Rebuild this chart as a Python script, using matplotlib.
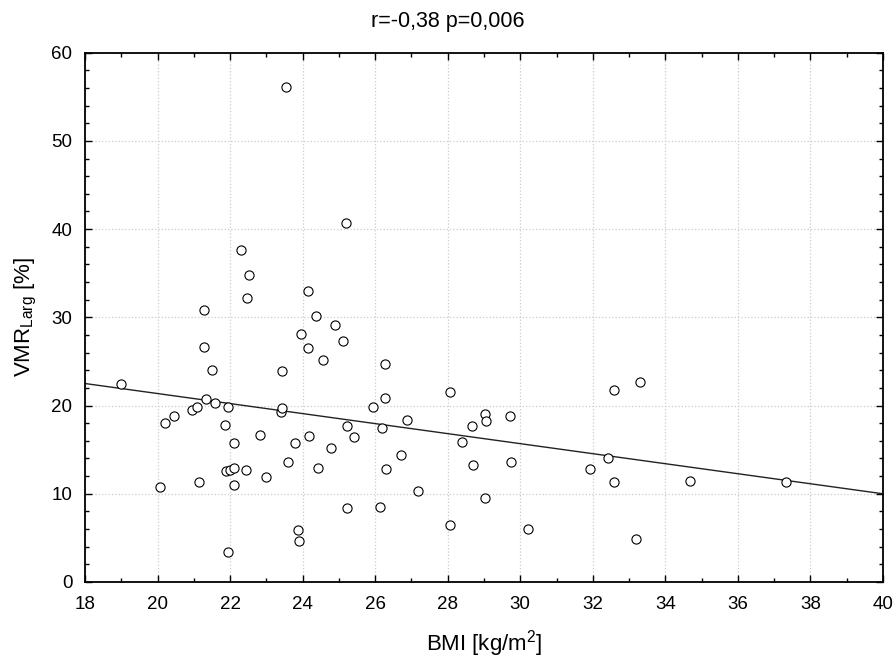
import numpy as np
import matplotlib
matplotlib.use("Agg")
import matplotlib.pyplot as plt
from matplotlib.ticker import MultipleLocator

plt.rcParams['font.family'] = ['Liberation Sans', 'DejaVu Sans']
plt.rcParams['mathtext.fontset'] = 'custom'
plt.rcParams['mathtext.rm'] = 'Liberation Sans'
plt.rcParams['mathtext.it'] = 'Liberation Sans'

bmi = [18.99, 20.07, 20.20, 20.45, 20.95, 21.09, 21.14, 21.27, 21.27, 21.34,
       21.51, 21.59, 21.86, 21.90, 21.95, 21.95, 22.00, 22.11, 22.11, 22.12,
       22.31, 22.43, 22.47, 22.52, 22.83, 22.99, 23.39, 23.43, 23.43, 23.55,
       23.60, 23.80, 23.86, 23.90, 23.95, 24.14, 24.15, 24.18, 24.38, 24.43,
       24.55, 24.79, 24.90, 25.11, 25.19, 25.21, 25.21, 25.42, 25.94, 26.14,
       26.19, 26.26, 26.26, 26.29, 26.70, 26.87, 27.18, 28.06, 28.06, 28.38,
       28.66, 28.71, 29.02, 29.03, 29.06, 29.71, 29.74, 30.21, 31.93, 32.42,
       32.58, 32.58, 33.19, 33.30, 34.68, 37.33]
vmr = [22.4, 10.8, 18.0, 18.8, 19.5, 19.8, 11.3, 30.8, 26.6, 20.8,
       24.0, 20.3, 17.8, 12.6, 19.8, 3.4, 12.7, 15.7, 11.0, 12.9,
       37.6, 12.7, 32.2, 34.8, 16.7, 11.9, 19.3, 19.7, 23.9, 56.1,
       13.6, 15.7, 5.9, 4.6, 28.1, 33.0, 26.5, 16.6, 30.2, 12.9,
       25.2, 15.2, 29.1, 27.3, 40.7, 17.7, 8.4, 16.4, 19.8, 8.5,
       17.5, 24.7, 20.9, 12.8, 14.4, 18.4, 10.3, 21.5, 6.5, 15.9,
       17.7, 13.3, 9.5, 19.0, 18.2, 18.8, 13.6, 6.0, 12.8, 14.1,
       21.8, 11.3, 4.9, 22.7, 11.5, 11.3]

fit_x = [18, 40]
fit_y = [22.5, 10.0]

title = "r=-0,38 p=0,006"
xlabel = "BMI [kg/m$^2$]"
ylabel = "VMR$_{\\rm Larg}$ [%]"

fig = plt.figure(figsize=(8.95, 6.66), dpi=100)
ax = fig.add_axes([85/895, 1-582/666, (883-85)/895, (582-52.7)/666])

ax.plot(fit_x, fit_y, color='#222222', lw=1.0, zorder=2)
ax.plot(bmi, vmr, linestyle='none', marker='o', markersize=6.6,
        markerfacecolor='white', markeredgecolor='black', markeredgewidth=0.8, zorder=3)

ax.set_xlim(18, 40)
ax.set_ylim(0, 60)
ax.xaxis.set_major_locator(MultipleLocator(2))
ax.xaxis.set_minor_locator(MultipleLocator(1))
ax.yaxis.set_major_locator(MultipleLocator(10))
ax.yaxis.set_minor_locator(MultipleLocator(2))
ax.grid(True, which='major', color='#cccccc', linestyle=':', linewidth=0.9)
ax.set_axisbelow(True)
ax.tick_params(which='both', direction='in', top=True, right=True, labelsize=13.5, width=1.0)
ax.tick_params(axis='x', which='major', length=5, pad=10)
ax.tick_params(axis='y', which='major', length=5, pad=9)
ax.tick_params(which='minor', length=3)
for s in ax.spines.values():
    s.set_linewidth(1.3)

ax.set_xlabel(xlabel, fontsize=16, labelpad=11)
ax.set_ylabel(ylabel, fontsize=16, labelpad=9)
fig.text(0.5, 1 - 22/666, title, fontsize=15.5, ha='center', va='center')

fig.savefig("out.png", dpi=100)
